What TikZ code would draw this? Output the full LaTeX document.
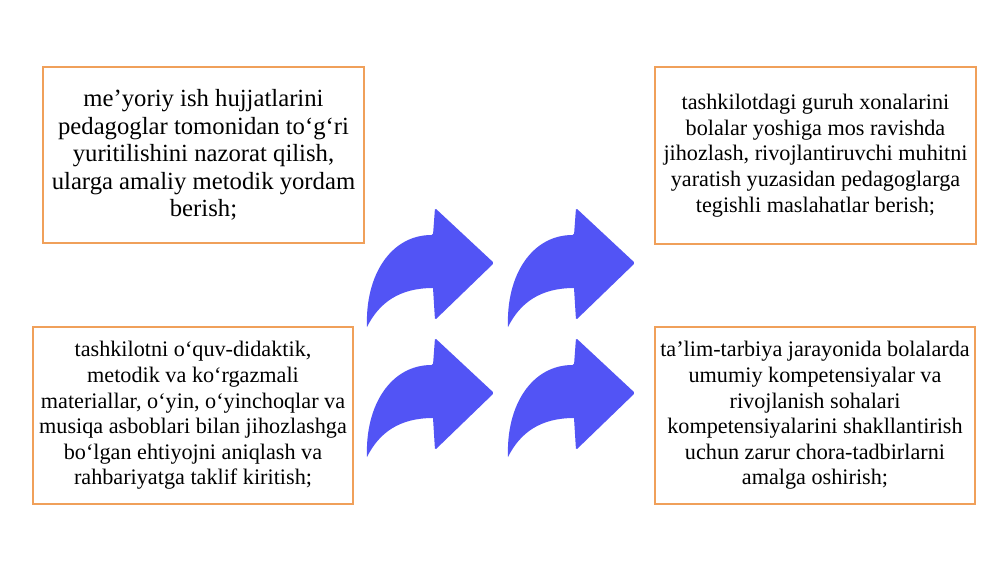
\documentclass[tikz,border=0pt]{standalone}
\usepackage{fontspec}
\setmainfont{Liberation Serif}
\definecolor{boxorange}{RGB}{240,160,90}
\definecolor{arrowblue}{RGB}{82,84,245}
\tikzset{
  infobox/.style={draw=boxorange, line width=1.3pt, fill=white, align=center, inner sep=0pt},
  bigtext/.style={font=\fontsize{24.7}{27.6}\selectfont},
  smalltext/.style={font=\fontsize{22.2}{25.6}\selectfont},
  bluearrow/.pic={
    \fill[arrowblue, rounded corners=1.5pt]
      (0,0) -- (-59,-55) -- (-61,-28)
      [sharp corners] .. controls (-103,-28) and (-129,12) .. (-127,64)
      .. controls (-115,40) and (-95,25) .. (-61,25)
      [rounded corners=1.5pt] -- (-59,57) -- cycle;
  }
}
\begin{document}
\begin{tikzpicture}[x=1pt,y=-1pt]
\useasboundingbox (0,0) rectangle (1000,563);
\fill[white] (0,0) rectangle (1000,563);

\node[infobox, bigtext, minimum width=321pt, minimum height=176pt] (b1) at (203.5,155)
  {me’yoriy ish hujjatlarini\\pedagoglar tomonidan to‘g‘ri\\yuritilishini nazorat qilish,\\ularga amaliy metodik yordam\\berish;};
\node[infobox, smalltext, minimum width=321pt, minimum height=177pt] (b2) at (815.5,155.5)
  {tashkilotdagi guruh xonalarini\\bolalar yoshiga mos ravishda\\jihozlash, rivojlantiruvchi muhitni\\yaratish yuzasidan pedagoglarga\\tegishli maslahatlar berish;};
\node[infobox, smalltext, minimum width=320pt, minimum height=177pt] (b3) at (193,415.5)
  {tashkilotni o‘quv-didaktik,\\metodik va ko‘rgazmali\\materiallar, o‘yin, o‘yinchoqlar va\\musiqa asboblari bilan jihozlashga\\bo‘lgan ehtiyojni aniqlash va\\rahbariyatga taklif kiritish;};
\node[infobox, smalltext, minimum width=320pt, minimum height=177pt] (b4) at (815,415.5)
  {ta’lim-tarbiya jarayonida bolalarda\\umumiy kompetensiyalar va\\rivojlanish sohalari\\kompetensiyalarini shakllantirish\\uchun zarur chora-tadbirlarni\\amalga oshirish;};

\pic at (494,263) {bluearrow};
\pic at (635,263) {bluearrow};
\pic at (494,393) {bluearrow};
\pic at (635,393) {bluearrow};
\end{tikzpicture}
\end{document}
